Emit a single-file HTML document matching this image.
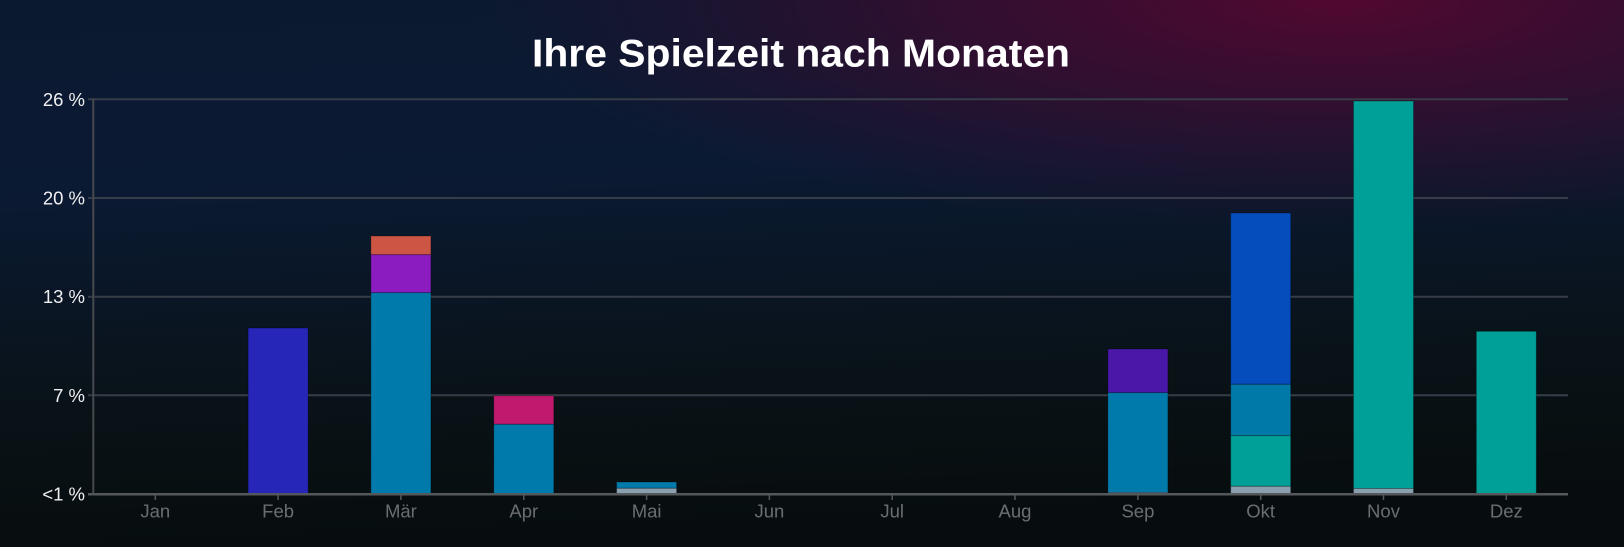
<!DOCTYPE html>
<html>
<head>
<meta charset="utf-8">
<style>
html,body{margin:0;padding:0;width:1624px;height:547px;overflow:hidden;background:#080e10;}
svg{display:block;}
</style>
</head>
<body>
<svg width="1624" height="547" viewBox="0 0 1624 547" xmlns="http://www.w3.org/2000/svg">
  <defs>
    <linearGradient id="base" x1="0" y1="0" x2="0.12" y2="1">
      <stop offset="0" stop-color="#0b1930"/>
      <stop offset="0.35" stop-color="#0b1a33"/>
      <stop offset="0.75" stop-color="#091217"/>
      <stop offset="1" stop-color="#070d0e"/>
    </linearGradient>
    <radialGradient id="mag" gradientUnits="userSpaceOnUse" cx="1340" cy="0" r="850" gradientTransform="translate(1340 0) scale(1 0.27) translate(-1340 0)">
      <stop offset="0" stop-color="#520830" stop-opacity="1"/>
      <stop offset="0.5" stop-color="#45092f" stop-opacity="0.6"/>
      <stop offset="1" stop-color="#3a0b30" stop-opacity="0"/>
    </radialGradient>
  </defs>
  <rect x="0" y="0" width="1624" height="547" fill="url(#base)"/>
  <rect x="0" y="0" width="1624" height="547" fill="url(#mag)"/>

  <!-- title -->
  <text x="801" y="66.5" text-anchor="middle" font-family="Liberation Sans, sans-serif" font-weight="bold" font-size="39" fill="#ffffff" textLength="538" lengthAdjust="spacingAndGlyphs">Ihre Spielzeit nach Monaten</text>

  <!-- gridlines -->
  <g stroke="#363d48" stroke-width="2">
    <line x1="88" y1="99.3" x2="1568" y2="99.3"/>
    <line x1="88" y1="198" x2="1568" y2="198"/>
    <line x1="88" y1="296.7" x2="1568" y2="296.7"/>
    <line x1="88" y1="395.3" x2="1568" y2="395.3"/>
  </g>
  <!-- y axis -->
  <line x1="93.3" y1="98.5" x2="93.3" y2="495" stroke="#464a4e" stroke-width="2"/>

  <!-- y labels -->
  <g font-family="Liberation Sans, sans-serif" font-size="18.5" fill="#f0f0f0" text-anchor="end">
    <text x="85" y="105.8">26 %</text>
    <text x="85" y="204.5">20 %</text>
    <text x="85" y="303.2">13 %</text>
    <text x="85" y="401.8">7 %</text>
    <text x="85" y="500.5">&lt;1 %</text>
  </g>

  <!-- bars -->
  <g stroke="rgba(0,0,0,0.28)" stroke-width="1">
    <!-- Feb -->
    <rect x="248.1" y="328" width="60" height="166" fill="#2626b8"/>
    <!-- Mär -->
    <rect x="370.9" y="236" width="60" height="18.7" fill="#cc5544"/>
    <rect x="370.9" y="254.7" width="60" height="38" fill="#8a1cc0"/>
    <rect x="370.9" y="292.7" width="60" height="201.3" fill="#007aab"/>
    <!-- Apr -->
    <rect x="493.8" y="395.7" width="60" height="28.6" fill="#c01a6e"/>
    <rect x="493.8" y="424.3" width="60" height="69.7" fill="#007aab"/>
    <!-- Mai -->
    <rect x="616.6" y="482" width="60" height="6.3" fill="#007aab"/>
    <rect x="616.6" y="488.3" width="60" height="5.7" fill="#8aa0b0"/>
    <!-- Sep -->
    <rect x="1107.9" y="349" width="60" height="43.7" fill="#4a18a8"/>
    <rect x="1107.9" y="392.7" width="60" height="99.8" fill="#007aab"/>
    <rect x="1107.9" y="492.5" width="60" height="1.5" fill="#8aa0b0"/>
    <!-- Okt -->
    <rect x="1230.7" y="213" width="60" height="171.3" fill="#054cbc"/>
    <rect x="1230.7" y="384.3" width="60" height="51.4" fill="#0078a8"/>
    <rect x="1230.7" y="435.7" width="60" height="50.6" fill="#00a098"/>
    <rect x="1230.7" y="486.3" width="60" height="7.7" fill="#8aa0b0"/>
    <!-- Nov -->
    <rect x="1353.5" y="101" width="60" height="387.5" fill="#00a098"/>
    <rect x="1353.5" y="488.5" width="60" height="5.5" fill="#8aa0b0"/>
    <!-- Dez -->
    <rect x="1476.3" y="331.3" width="60" height="162.7" fill="#00a098"/>
  </g>

  <!-- baseline -->
  <line x1="88" y1="494.3" x2="1568" y2="494.3" stroke="#54585b" stroke-width="2.5"/>
  <!-- x ticks -->
  <g stroke="#54585b" stroke-width="1.5">
    <line x1="155.3" y1="494" x2="155.3" y2="500"/>
    <line x1="278.1" y1="494" x2="278.1" y2="500"/>
    <line x1="400.9" y1="494" x2="400.9" y2="500"/>
    <line x1="523.8" y1="494" x2="523.8" y2="500"/>
    <line x1="646.6" y1="494" x2="646.6" y2="500"/>
    <line x1="769.4" y1="494" x2="769.4" y2="500"/>
    <line x1="892.2" y1="494" x2="892.2" y2="500"/>
    <line x1="1015" y1="494" x2="1015" y2="500"/>
    <line x1="1137.9" y1="494" x2="1137.9" y2="500"/>
    <line x1="1260.7" y1="494" x2="1260.7" y2="500"/>
    <line x1="1383.5" y1="494" x2="1383.5" y2="500"/>
    <line x1="1506.3" y1="494" x2="1506.3" y2="500"/>
  </g>

  <!-- x labels -->
  <g font-family="Liberation Sans, sans-serif" font-size="18.5" fill="#6a6e71" text-anchor="middle">
    <text x="155.3" y="517.5">Jan</text>
    <text x="278.1" y="517.5">Feb</text>
    <text x="400.9" y="517.5">Mär</text>
    <text x="523.8" y="517.5">Apr</text>
    <text x="646.6" y="517.5">Mai</text>
    <text x="769.4" y="517.5">Jun</text>
    <text x="892.2" y="517.5">Jul</text>
    <text x="1015" y="517.5">Aug</text>
    <text x="1137.9" y="517.5">Sep</text>
    <text x="1260.7" y="517.5">Okt</text>
    <text x="1383.5" y="517.5">Nov</text>
    <text x="1506.3" y="517.5">Dez</text>
  </g>
</svg>
</body>
</html>
